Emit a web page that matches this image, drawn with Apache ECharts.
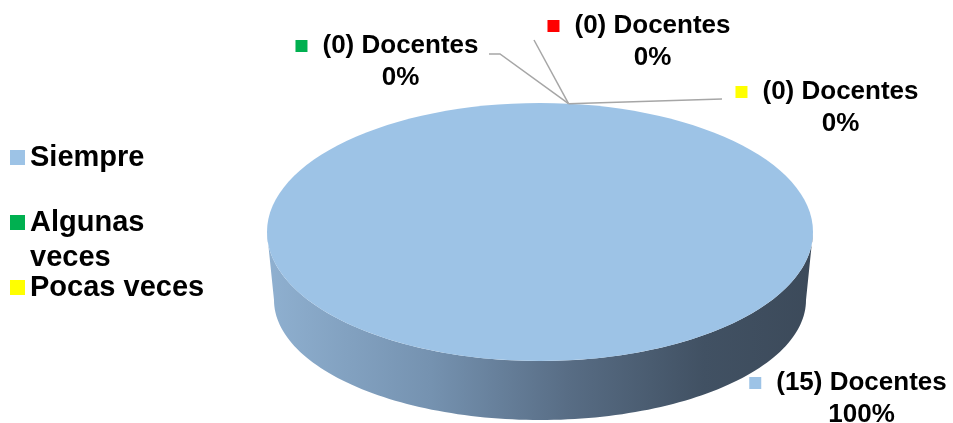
<!DOCTYPE html>
<html><head><meta charset="utf-8">
<script src="https://cdn.jsdelivr.net/npm/echarts@6/dist/echarts.min.js"></script>
<style>html,body{margin:0;padding:0;background:#fff}#c{width:953px;height:423px}</style>
</head><body><div id="c"></div>
<script>
// ---- data ----
const categories = ['Siempre', 'Algunas veces', 'Pocas veces', 'Nunca'];
const docentes = [15, 0, 0, 0];
const legendNames = ['Siempre', 'Algunas veces', 'Pocas veces'];
const unitLabel = 'Docentes';

// ---- styles / layout ----
const colors = ['#9dc3e6', '#00b050', '#ffff00', '#ff0000'];
const FONT = '"Liberation Sans", Arial, Helvetica, sans-serif';
const pie = { cx: 540, cy: 232, rx: 273, ry: 129, startDeg: 6, bdy: 68, brx: 266, bry: 120 };
const labelLayout = [
  { x: 848, y: 367, leader: [] },
  { x: 387, y: 30, leader: [[500, 54], [489, 54]] },
  { x: 827, y: 76, leader: [[722, 99]] },
  { x: 639, y: 10, leader: [[534, 40]] }
];
const legendTops = [140, 170, 270];

function topPt(deg) {
  const r = deg * Math.PI / 180;
  return [pie.cx + pie.rx * Math.sin(r), pie.cy - pie.ry * Math.cos(r)];
}
function botPt(deg) {
  const r = deg * Math.PI / 180;
  return [pie.cx + pie.brx * Math.sin(r), pie.cy + pie.bdy - pie.bry * Math.cos(r)];
}
function arc(fn, a, b, n) {
  const pts = [];
  for (let k = 0; k <= n; k++) pts.push(fn(a + (b - a) * k / n));
  return pts;
}

function makeRender(i) {
  return function (params, api) {
    const total = docentes.reduce((s, d) => s + d, 0);
    const v = api.value(0);
    let cum = 0;
    for (let k = 0; k < i; k++) cum += docentes[k];
    const a0 = pie.startDeg + 360 * cum / total;
    const a1 = a0 + 360 * v / total;
    const children = [];
    if (v > 0) {
      [[90, 270], [450, 630]].forEach(([f0, f1]) => {
        const s0 = Math.max(a0, f0), s1 = Math.min(a1, f1);
        if (s1 > s0) {
          const pts = arc(topPt, s0, s1, 120).concat(arc(botPt, s1, s0, 120));
          children.push({
            type: 'polygon', shape: { points: pts },
            style: {
              fill: new echarts.graphic.LinearGradient(0, 0, 1, 0, [
                { offset: 0, color: '#8fb0d0' },
                { offset: 0.3, color: '#7592b0' },
                { offset: 0.55, color: '#586d85' },
                { offset: 0.8, color: '#415163' },
                { offset: 1, color: '#3c4a5a' }
              ]),
              stroke: null
            }
          });
        }
      });
      if (v >= total) {
        children.push({ type: 'ellipse', shape: { cx: pie.cx, cy: pie.cy, rx: pie.rx, ry: pie.ry },
          style: { fill: colors[i], stroke: null } });
      } else {
        const pts = [[pie.cx, pie.cy]].concat(arc(topPt, a0, a1, 200));
        children.push({ type: 'polygon', shape: { points: pts }, style: { fill: colors[i], stroke: null } });
      }
    }
    const L = labelLayout[i];
    const mid = (a0 + a1) / 2;
    if (L.leader.length) {
      children.push({
        type: 'polyline', shape: { points: [topPt(mid)].concat(L.leader) },
        style: { stroke: '#a6a6a6', lineWidth: 1.5, fill: null }
      });
    }
    const pct = Math.round(v / total * 100);
    const base = { fontFamily: FONT, fontSize: 26, fontWeight: 'bold', fill: '#000', lineHeight: 32 };
    children.push({
      type: 'text', x: L.x, y: L.y,
      style: Object.assign({
        text: '{m| }{t|(' + v + ') ' + unitLabel + '}\n{p|' + pct + '%}',
        align: 'center', verticalAlign: 'top',
        rich: {
          m: { width: 12, height: 12, backgroundColor: colors[i], lineHeight: 32 },
          t: Object.assign({ padding: [0, 0, 0, 15] }, base),
          p: Object.assign({ padding: [0, 0, 0, 27] }, base)
        }
      }, base)
    });
    return { type: 'group', children };
  };
}

const chart = echarts.init(document.getElementById('c'), null, { renderer: 'canvas' });
chart.setOption({
  animation: false,
  backgroundColor: '#fff',
  legend: legendNames.map((n, k) => ({
    data: [n], left: 10, top: legendTops[k], orient: 'vertical', padding: 0,
    itemWidth: 15, itemHeight: 15, icon: 'rect', selectedMode: false,
    formatter: k === 1 ? (name) => '\n' + name.replace(' ', '\n') : '{name}',
    textStyle: { fontSize: 29, fontWeight: 'bold', fontFamily: FONT, color: '#000', lineHeight: 35 }
  })),
  series: categories.map((name, i) => ({
    type: 'custom', name, coordinateSystem: 'none', data: [docentes[i]],
    itemStyle: { color: colors[i] }, renderItem: makeRender(i), silent: true
  }))
});
</script></body></html>
